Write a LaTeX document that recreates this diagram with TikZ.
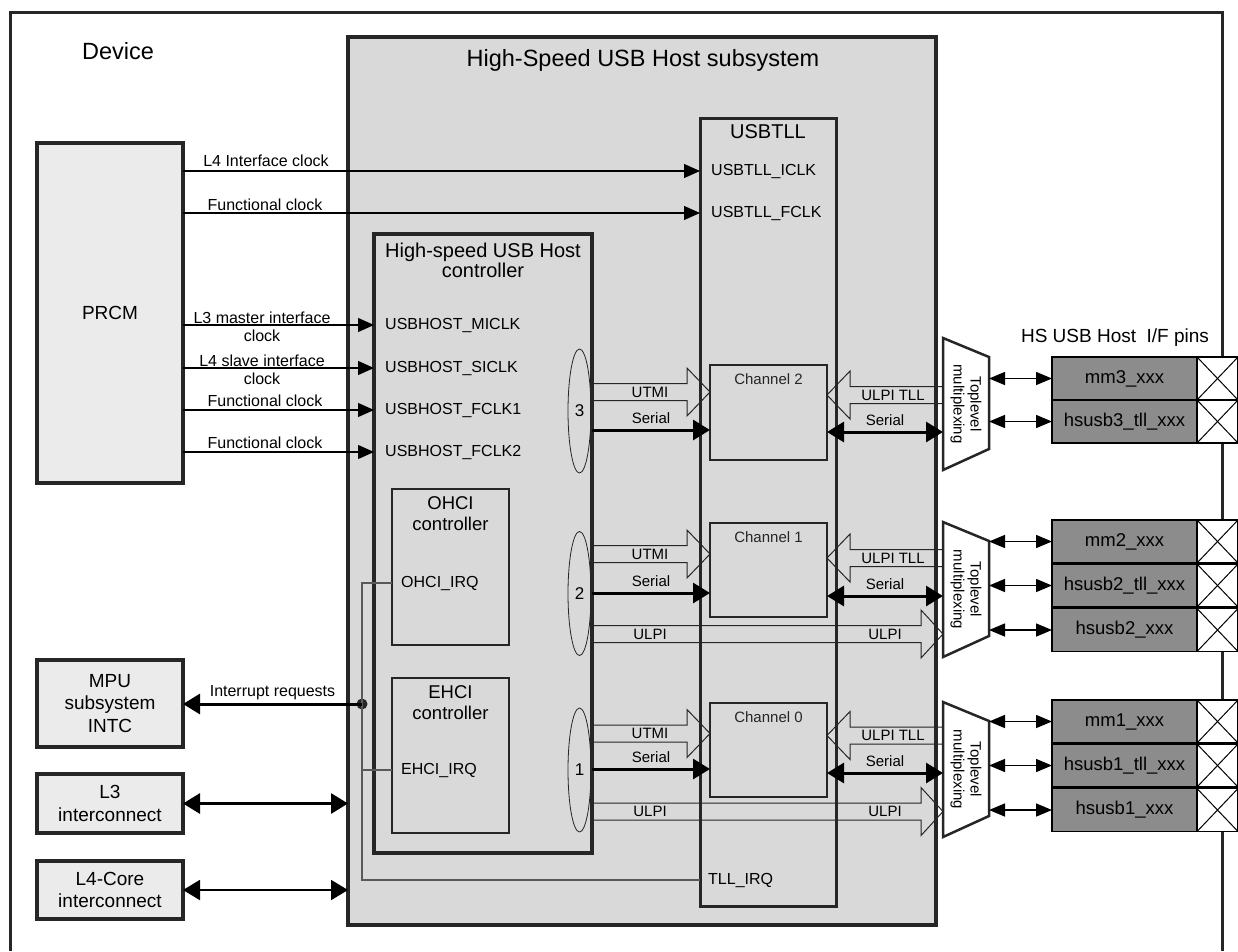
\documentclass[tikz,border=0pt]{standalone}
\usepackage{fontspec}
\setmainfont{Liberation Sans}
\usetikzlibrary{positioning,arrows.meta,calc,shapes.geometric}
\definecolor{subgray}{HTML}{D9D9D9}
\definecolor{boxgray}{HTML}{EBEBEB}
\definecolor{pingray}{HTML}{8C8C8C}
\definecolor{edge}{HTML}{262626}

\newcommand{\pxf}[2]{\fontsize{#1}{#2}\selectfont}
% hollow bus arrow: start, tip, signed head length
\newcommand{\fatarrow}[3]{%
  \draw[hollow] ($#1+(0,-8.5)$) -- ($#2+(#3,-8.5)$) -- ($#2+(#3,-24)$) -- #2
    -- ($#2+(#3,24)$) -- ($#2+(#3,8.5)$) -- ($#1+(0,8.5)$);}

\tikzset{
  frame/.style={draw=edge, line width=3pt},
  blk/.style={draw=edge, line width=4pt, fill=boxgray, anchor=north west,
    inner sep=0pt, outer sep=0pt, align=center, font=\pxf{19}{22.5}},
  sub/.style={draw=edge, line width=3.5pt, fill=subgray, anchor=north west,
    inner sep=0pt, outer sep=0pt},
  chan/.style={draw=edge, line width=2.5pt, anchor=north west, inner sep=0pt, outer sep=0pt},
  oval/.style={ellipse, draw=edge, line width=0.8pt, minimum width=23pt,
    minimum height=124pt, inner sep=0pt, font=\pxf{17}{19}},
  pin/.style={draw=black, line width=1.5pt, fill=pingray, minimum width=145pt,
    minimum height=43pt, inner sep=0pt, outer sep=0pt, font=\pxf{18.5}{20}},
  pad/.style={draw=black, line width=1.2pt, fill=white, minimum width=41pt,
    minimum height=43pt, inner sep=0pt, outer sep=0pt},
  muxbox/.style={minimum width=46pt, inner sep=0pt, outer sep=0pt},
  muxline/.style={draw=edge, line width=2.5pt, fill=white},
  port/.style={anchor=west, inner sep=0pt},
  lbl/.style={inner sep=0pt, align=center},
  clk/.style={line width=1.2pt, -{Triangle[length=16pt,width=14pt]}},
  ser/.style={line width=3pt, -{Triangle[length=17pt,width=20pt]}},
  serb/.style={line width=3pt, {Triangle[length=17pt,width=20pt]}-{Triangle[length=17pt,width=20pt]}},
  pinarr/.style={line width=1.5pt, {Triangle[length=16pt,width=13pt]}-{Triangle[length=16pt,width=13pt]}},
  hollow/.style={draw=edge, line width=1pt},
  irq/.style={draw=black!65, line width=1.2pt},
}

\begin{document}
\begin{tikzpicture}[x=1pt, y=-1pt, font=\pxf{16}{17.5}]
  \useasboundingbox (0,0) rectangle (1238,951);

  % device frame
  \draw[frame] (10,951) -- (10,12) -- (1222,12) -- (1222,951);
  \node[lbl, font=\pxf{23.5}{27}] (device) at (118,51) {Device};

  % outside blocks
  \node[blk, minimum width=146pt, minimum height=340pt] (prcm) at (37,143) {PRCM};
  \node[blk, minimum width=146pt, minimum height=87pt] (mpu) at (37,660) {MPU\\subsystem\\INTC};
  \node[blk, minimum width=146pt, minimum height=59pt] (l3) at (37,774) {L3\\interconnect};
  \node[blk, minimum width=146pt, minimum height=58pt] (l4) at (37,861) {L4-Core\\interconnect};

  % subsystem
  \node[sub, minimum width=588pt, minimum height=888pt] (subsys) at (348,37) {};
  \node[lbl, font=\pxf{23.5}{26}] (subtitle) at (643,60) {High-Speed USB Host subsystem};

  \node[sub, line width=3pt, minimum width=136pt, minimum height=788pt] (tll) at (700,118) {};
  \node[lbl, font=\pxf{20}{24}, below=6pt of tll.north] (tlltitle) {USBTLL};
  \node[port] (iclk) at (711,171) {USBTLL\_ICLK};
  \node[port] (fclk) at (711,213) {USBTLL\_FCLK};
  \node[port] (tllirq) at (708,880) {TLL\_IRQ};

  \node[sub, line width=4pt, minimum width=218pt, minimum height=619pt] (ctrl) at (374,234) {};
  \node[lbl, font=\pxf{20}{20}, below=9pt of ctrl.north] (ctrltitle) {High-speed USB Host\\controller};
  \node[port] (miclk) at (385,325) {USBHOST\_MICLK};
  \node[port] (siclk) at (385,368) {USBHOST\_SICLK};
  \node[port] (fclka) at (385,410) {USBHOST\_FCLK1};
  \node[port] (fclkb) at (385,452) {USBHOST\_FCLK2};

  \node[chan, minimum width=117pt, minimum height=156pt] (ohci) at (392,489) {};
  \node[lbl, font=\pxf{18.5}{21.5}, below=7pt of ohci.north] {OHCI\\controller};
  \node[port] (ohciirq) at (401,583) {OHCI\_IRQ};
  \node[chan, minimum width=117pt, minimum height=155pt] (ehci) at (392,678) {};
  \node[lbl, font=\pxf{18.5}{21.5}, below=7pt of ehci.north] {EHCI\\controller};
  \node[port] (ehciirq) at (401,770) {EHCI\_IRQ};

  % channels
  \node[chan, line width=2pt, minimum width=117pt, minimum height=95pt] (ch2) at (710,365) {};
  \node[chan, line width=2pt, minimum width=117pt, minimum height=94pt] (ch1) at (710,523) {};
  \node[chan, line width=2pt, minimum width=117pt, minimum height=94pt] (ch0) at (710,703) {};
  \foreach \c/\t in {ch2/Channel 2, ch1/Channel 1, ch0/Channel 0}
    \node[lbl, font=\pxf{15}{17}, text=edge, below=8pt of \c.north] {\t};

  \node[oval] (ov3) at (579.5,411) {3};
  \node[oval] (ov2) at (579.5,593.5) {2};
  \node[oval] (ov1) at (579.5,770) {1};

  % clocks
  \draw[clk] (prcm.east |- iclk) -- (tll.west |- iclk);
  \draw[clk] (prcm.east |- fclk) -- (tll.west |- fclk);
  \draw[clk] (prcm.east |- miclk) -- (ctrl.west |- miclk);
  \draw[clk] (prcm.east |- siclk) -- (ctrl.west |- siclk);
  \draw[clk] (prcm.east |- fclka) -- (ctrl.west |- fclka);
  \draw[clk] (prcm.east |- fclkb) -- (ctrl.west |- fclkb);
  \node[lbl] at (266,161) {L4 Interface clock};
  \node[lbl] at (265,205) {Functional clock};
  \node[lbl, font=\pxf{16}{17.5}] at (262,327) {L3 master interface\\clock};
  \node[lbl, font=\pxf{16}{17.5}] at (262,370) {L4 slave interface\\clock};
  \node[lbl] at (265,401) {Functional clock};
  \node[lbl] at (265,443) {Functional clock};

  % interrupts and interconnects
  \node[circle, fill=edge, inner sep=0pt, minimum size=11pt] (irqdot) at (362,704) {};
  \draw[irq] (ohci.west |- ohciirq) -| (irqdot.center) |- (tll.west |- tllirq);
  \draw[irq] (ehci.west |- ehciirq) -- (irqdot |- ehciirq);
  \draw[ser] (irqdot.center) -- (mpu.east |- irqdot) node[midway, above=3pt, inner sep=0pt] {Interrupt requests};
  \draw[serb] (l3.east) -- (subsys.west |- l3.east);
  \draw[serb, line width=2pt] (l4.east) -- (subsys.west |- l4.east);

  % muxes
  \node[muxbox, minimum height=132pt] (mux2) at (966,404) {};
  \node[muxbox, minimum height=135pt] (mux1) at (966,589.5) {};
  \node[muxbox, minimum height=135pt] (mux0) at (966,769.5) {};
  \foreach \m in {mux2, mux1, mux0} {
    \draw[muxline] (\m.north west) -- ([yshift=-19pt]\m.north east)
      -- ([yshift=21pt]\m.south east) -- (\m.south west) -- cycle;
    \node[lbl, rotate=-90, font=\pxf{15}{17}] at (\m) {Toplevel\\multiplexing};
  }

  % channel 2
  \fatarrow{(ctrl.east |- 0,392)}{(ch2.west |- 0,392)}{-23}
  \node[lbl, font=\pxf{15}{17}] at (650,392) {UTMI};
  \draw[ser] (ctrl.east |- 0,430) -- (ch2.west |- 0,430) node[midway, above=4.5pt, inner sep=0pt, font=\pxf{15}{17}] {Serial};
  \fatarrow{(mux2.west |- 0,395)}{(ch2.east |- 0,395)}{23}
  \node[lbl, font=\pxf{15}{17}] at (893,395) {ULPI TLL};
  \draw[serb] (ch2.east |- 0,432) -- (mux2.west |- 0,432) node[midway, above=4.5pt, inner sep=0pt, font=\pxf{15}{17}] {Serial};

  % channel 1
  \fatarrow{(ctrl.east |- 0,554)}{(ch1.west |- 0,554)}{-23}
  \node[lbl, font=\pxf{15}{17}] at (650,554) {UTMI};
  \draw[ser] (ctrl.east |- 0,593) -- (ch1.west |- 0,593) node[midway, above=4.5pt, inner sep=0pt, font=\pxf{15}{17}] {Serial};
  \fatarrow{(mux1.west |- 0,558)}{(ch1.east |- 0,558)}{23}
  \node[lbl, font=\pxf{15}{17}] at (893,558) {ULPI TLL};
  \draw[serb] (ch1.east |- 0,596) -- (mux1.west |- 0,596) node[midway, above=4.5pt, inner sep=0pt, font=\pxf{15}{17}] {Serial};
  \fatarrow{(ctrl.east |- 0,634)}{(mux1.west |- 0,634)}{-22}
  \node[lbl, font=\pxf{15}{17}] at (650,634) {ULPI};
  \node[lbl, font=\pxf{15}{17}] at (885,634) {ULPI};

  % channel 0
  \fatarrow{(ctrl.east |- 0,733.5)}{(ch0.west |- 0,733.5)}{-23}
  \node[lbl, font=\pxf{15}{17}] at (650,733.5) {UTMI};
  \draw[ser] (ctrl.east |- 0,769) -- (ch0.west |- 0,769) node[midway, above=4.5pt, inner sep=0pt, font=\pxf{15}{17}] {Serial};
  \fatarrow{(mux0.west |- 0,735.5)}{(ch0.east |- 0,735.5)}{23}
  \node[lbl, font=\pxf{15}{17}] at (893,735.5) {ULPI TLL};
  \draw[serb] (ch0.east |- 0,773) -- (mux0.west |- 0,773) node[midway, above=4.5pt, inner sep=0pt, font=\pxf{15}{17}] {Serial};
  \fatarrow{(ctrl.east |- 0,811.5)}{(mux0.west |- 0,811.5)}{-22}
  \node[lbl, font=\pxf{15}{17}] at (650,811.5) {ULPI};
  \node[lbl, font=\pxf{15}{17}] at (885,811.5) {ULPI};

  % pins
  \node[lbl, font=\pxf{19}{21}] (pinhead) at (1115,338) {HS USB Host\ \ I/F pins};
  \node[pin] (mm3) at (1124.5,378.5) {mm3\_xxx};
  \node[pin] (tll3) at (1124.5,421.5) {hsusb3\_tll\_xxx};
  \node[pin] (mm2) at (1124.5,541.5) {mm2\_xxx};
  \node[pin] (tll2) at (1124.5,585.5) {hsusb2\_tll\_xxx};
  \node[pin] (hs2) at (1124.5,630) {hsusb2\_xxx};
  \node[pin] (mm1) at (1124.5,721.5) {mm1\_xxx};
  \node[pin] (tll1) at (1124.5,765.5) {hsusb1\_tll\_xxx};
  \node[pin] (hs1) at (1124.5,810) {hsusb1\_xxx};
  \foreach \p/\m in {mm3/mux2, tll3/mux2, mm2/mux1, tll2/mux1, hs2/mux1, mm1/mux0, tll1/mux0, hs1/mux0} {
    \node[pad, right=0pt of \p] (x\p) {};
    \draw[line width=1pt] (x\p.north west) -- (x\p.south east) (x\p.north east) -- (x\p.south west);
    \draw[pinarr] (\m.east |- \p) -- (\p.west);
  }
\end{tikzpicture}
\end{document}
